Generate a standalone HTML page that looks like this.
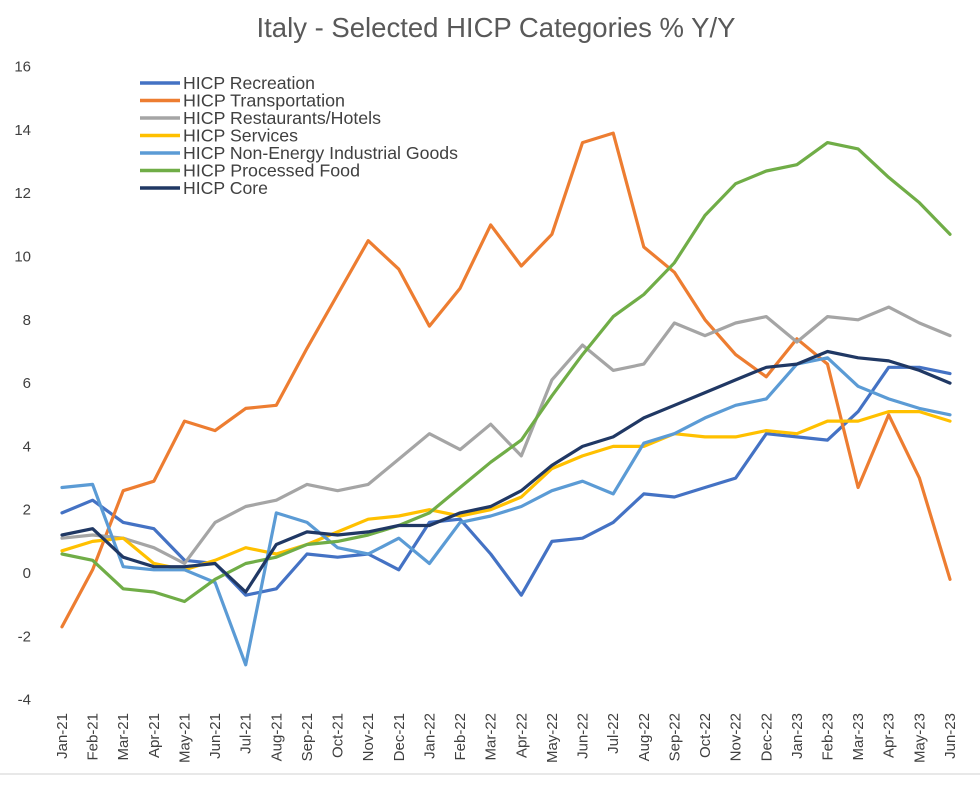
<!DOCTYPE html>
<html><head><meta charset="utf-8"><style>
html,body{margin:0;padding:0;background:#fff;}
svg text{font-family:"Liberation Sans",Arial,sans-serif;}
</style></head><body>
<svg width="980" height="781" viewBox="0 0 980 781" xmlns="http://www.w3.org/2000/svg">
<rect width="980" height="781" fill="#fff"/>
<text x="496" y="37" font-size="27.5" fill="#595959" text-anchor="middle">Italy - Selected HICP Categories % Y/Y</text>
<g font-size="15" fill="#404040" text-anchor="end" id="yl"></g>
<g font-size="15" fill="#404040" id="xl"></g>
<line x1="0" y1="774" x2="980" y2="774" stroke="#d0d0d0" stroke-width="1"/>
<g id="series" fill="none" stroke-width="3.2" stroke-linejoin="round" stroke-linecap="round"></g>
<g id="legend" font-size="17.5" fill="#404040"></g>
<script>
var y0=573,py=31.65,x0=62,px=30.62;
function Y(v){return y0-v*py;}function X(i){return x0+i*px;}
var ns="http://www.w3.org/2000/svg";
var yl=document.getElementById('yl');
for(var v=-4;v<=16;v+=2){var t=document.createElementNS(ns,'text');t.setAttribute('x',31);t.setAttribute('y',Y(v)+5);t.textContent=v;yl.appendChild(t);}
var m=['Jan','Feb','Mar','Apr','May','Jun','Jul','Aug','Sep','Oct','Nov','Dec'];
var xl=document.getElementById('xl');
for(var i=0;i<30;i++){var yr=21+Math.floor(i/12);var t=document.createElementNS(ns,'text');var x=X(i)+5;t.setAttribute('transform','translate('+x+',713) rotate(-90)');t.setAttribute('text-anchor','end');t.textContent=m[i%12]+'-'+yr;xl.appendChild(t);}
var S=[
['HICP Recreation','#4472C4',[1.9,2.3,1.6,1.4,0.4,0.3,-0.7,-0.5,0.6,0.5,0.6,0.1,1.6,1.7,0.6,-0.7,1.0,1.1,1.6,2.5,2.4,2.7,3.0,4.4,4.3,4.2,5.1,6.5,6.5,6.3]],
['HICP Transportation','#ED7D31',[-1.7,0.1,2.6,2.9,4.8,4.5,5.2,5.3,7.1,8.8,10.5,9.6,7.8,9.0,11.0,9.7,10.7,13.6,13.9,10.3,9.5,8.0,6.9,6.2,7.4,6.6,2.7,5.0,3.0,-0.2]],
['HICP Restaurants/Hotels','#A5A5A5',[1.1,1.2,1.1,0.8,0.3,1.6,2.1,2.3,2.8,2.6,2.8,3.6,4.4,3.9,4.7,3.7,6.1,7.2,6.4,6.6,7.9,7.5,7.9,8.1,7.3,8.1,8.0,8.4,7.9,7.5]],
['HICP Services','#FFC000',[0.7,1.0,1.1,0.3,0.1,0.4,0.8,0.6,0.9,1.3,1.7,1.8,2.0,1.8,2.0,2.4,3.3,3.7,4.0,4.0,4.4,4.3,4.3,4.5,4.4,4.8,4.8,5.1,5.1,4.8]],
['HICP Non-Energy Industrial Goods','#5B9BD5',[2.7,2.8,0.2,0.1,0.1,-0.3,-2.9,1.9,1.6,0.8,0.6,1.1,0.3,1.6,1.8,2.1,2.6,2.9,2.5,4.1,4.4,4.9,5.3,5.5,6.6,6.8,5.9,5.5,5.2,5.0]],
['HICP Processed Food','#70AD47',[0.6,0.4,-0.5,-0.6,-0.9,-0.2,0.3,0.5,0.9,1.0,1.2,1.5,1.9,2.7,3.5,4.2,5.6,6.9,8.1,8.8,9.8,11.3,12.3,12.7,12.9,13.6,13.4,12.5,11.7,10.7]],
['HICP Core','#203864',[1.2,1.4,0.5,0.2,0.2,0.3,-0.6,0.9,1.3,1.2,1.3,1.5,1.5,1.9,2.1,2.6,3.4,4.0,4.3,4.9,5.3,5.7,6.1,6.5,6.6,7.0,6.8,6.7,6.4,6.0]]
];
var g=document.getElementById('series'),lg=document.getElementById('legend');
S.forEach(function(s,k){
 var p=s[2].map(function(v,i){return X(i).toFixed(1)+','+Y(v).toFixed(1);}).join(' ');
 var pl=document.createElementNS(ns,'polyline');pl.setAttribute('points',p);pl.setAttribute('stroke',s[1]);g.appendChild(pl);
 var ly=83+k*17.5;
 var l=document.createElementNS(ns,'line');l.setAttribute('x1',140);l.setAttribute('x2',180);l.setAttribute('y1',ly);l.setAttribute('y2',ly);l.setAttribute('stroke',s[1]);l.setAttribute('stroke-width',3.5);lg.appendChild(l);
 var t=document.createElementNS(ns,'text');t.setAttribute('x',183);t.setAttribute('y',ly+6);t.setAttribute('textLength',[132,162,198,115,275,177,85][k]);t.setAttribute('lengthAdjust','spacingAndGlyphs');t.textContent=s[0];lg.appendChild(t);
});
</script>
</svg>
</body></html>
